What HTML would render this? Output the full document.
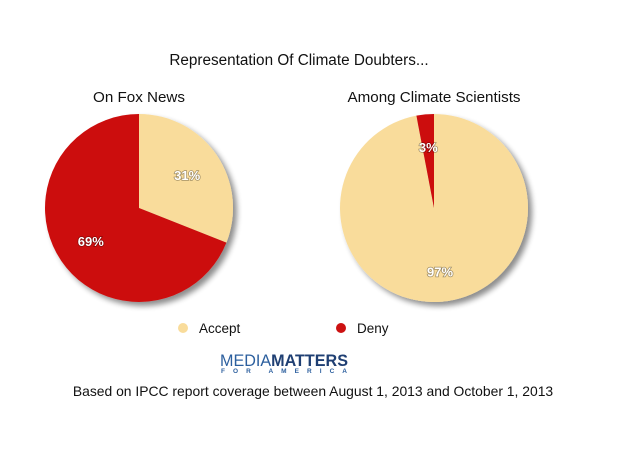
<!DOCTYPE html>
<html><head><meta charset="utf-8"><style>
body{margin:0;background:#fff;font-family:"Liberation Sans",sans-serif}
svg text{font-family:"Liberation Sans",sans-serif}
</style></head><body>
<svg width="627" height="454" xmlns="http://www.w3.org/2000/svg">
<defs><filter id="sh" x="-20%" y="-20%" width="150%" height="150%"><feGaussianBlur in="SourceAlpha" stdDeviation="3"/><feOffset dx="4" dy="4"/><feComponentTransfer><feFuncA type="linear" slope="0.45"/></feComponentTransfer><feMerge><feMergeNode/><feMergeNode in="SourceGraphic"/></feMerge></filter></defs>
<rect width="627" height="454" fill="#fff"/>
<text x="299" y="65" text-anchor="middle" font-size="15.3" fill="#111">Representation Of Climate Doubters...</text>
<g id="pies"></g>
<g>
<circle cx="183" cy="328" r="5" fill="#f9dc9b"/>
<text x="199" y="333" font-size="13.5" fill="#111">Accept</text>
<circle cx="341" cy="328" r="5" fill="#cc1111"/>
<text x="357" y="333" font-size="13.5" fill="#111">Deny</text>
</g>
<g>
<text x="220" y="366" font-size="17" fill="#2c5f9e" textLength="128" lengthAdjust="spacingAndGlyphs">MEDIA<tspan font-weight="bold" fill="#1f3f73">MATTERS</tspan></text>
<text x="221" y="373" font-size="6.5" font-weight="bold" fill="#2c5f9e" textLength="126" lengthAdjust="spacing">FOR AMERICA</text>
</g>
<text x="313" y="396" text-anchor="middle" font-size="13.9" fill="#111">Based on IPCC report coverage between August 1, 2013 and October 1, 2013</text>
</svg>
<script>
const pieTitles=["On Fox News","Among Climate Scientists"];
const acceptValues=[31,97];
const denyValues=[69,3];
const centersX=[139,434];
const cy=208,R=94;
const ns="http://www.w3.org/2000/svg";
const g=document.getElementById('pies');
function pt(cx,a,r){return [cx+r*Math.sin(a),cy-r*Math.cos(a)];}
function slice(cx,a0,a1,color){
  const p=document.createElementNS(ns,'path');
  const [x0,y0]=pt(cx,a0,R),[x1,y1]=pt(cx,a1,R);
  const large=(a1-a0)>Math.PI?1:0;
  p.setAttribute('d',`M${cx},${cy}L${x0},${y0}A${R},${R} 0 ${large} 1 ${x1},${y1}Z`);
  p.setAttribute('fill',color);
  return p;
}
function label(x,y,t){
  const e=document.createElementNS(ns,'text');
  e.setAttribute('x',x);e.setAttribute('y',y);e.setAttribute('text-anchor','middle');
  e.setAttribute('font-size','13');e.setAttribute('font-weight','bold');e.setAttribute('fill','#fff');
  e.setAttribute('style','paint-order:stroke;stroke:rgba(0,0,0,0.35);stroke-width:1.5px');
  e.textContent=t;return e;
}
for(let i=0;i<2;i++){
  const cx=centersX[i];
  const t=document.createElementNS(ns,'text');
  t.setAttribute('x',cx);t.setAttribute('y',102);t.setAttribute('text-anchor','middle');
  t.setAttribute('font-size','15.2');t.setAttribute('fill','#111');t.textContent=pieTitles[i];
  
  
  g.appendChild(t);
  const grp=document.createElementNS(ns,'g');
  grp.setAttribute('filter','url(#sh)');
  
  
  const tot=acceptValues[i]+denyValues[i];
  const aA=acceptValues[i]/tot*2*Math.PI;
  const s1=slice(cx,0,aA,'#f9dc9b');
  
  
  const s2=slice(cx,aA,2*Math.PI,'#cc1111');
  
  
  grp.appendChild(s1);grp.appendChild(s2);g.appendChild(grp);
  const ma=aA/2, md=(aA+2*Math.PI)/2;
  const la=pt(cx,ma,i==0?R*0.62:R*0.68), ld=pt(cx,md,i==0?R*0.62:R*0.65);
  const l1=label(la[0],la[1]+5,acceptValues[i]+'%');
  
  
  const l2=label(ld[0],ld[1]+5,denyValues[i]+'%');
  
  
  g.appendChild(l1);g.appendChild(l2);
}
</script>
</body></html>
